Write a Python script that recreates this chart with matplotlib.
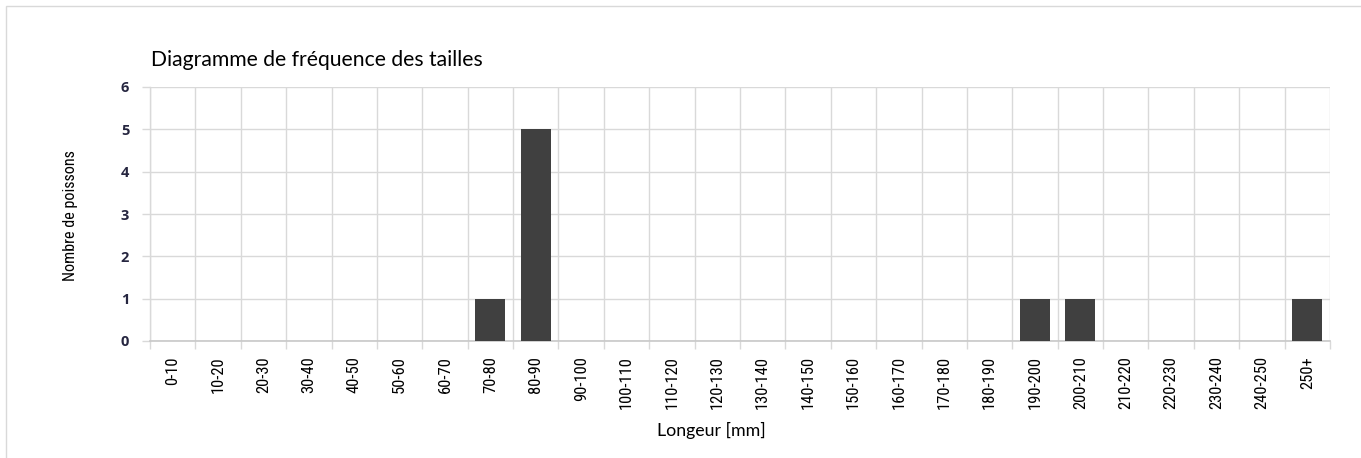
import matplotlib.pyplot as plt
import numpy as np
from matplotlib.patches import Rectangle
from matplotlib import font_manager

categories = ['0-10', '10-20', '20-30', '30-40', '40-50', '50-60', '60-70', '70-80',
              '80-90', '90-100', '100-110', '110-120', '120-130', '130-140', '140-150',
              '150-160', '160-170', '170-180', '180-190', '190-200', '200-210',
              '210-220', '220-230', '230-240', '240-250', '250+']
counts = [0, 0, 0, 0, 0, 0, 0, 1, 5, 0, 0, 0, 0, 0, 0, 0, 0, 0, 0, 1, 1, 0, 0, 0, 0, 1]
yticks = [0, 1, 2, 3, 4, 5, 6]

# condensed font for the category labels, if one is installed
names = set(f.name for f in font_manager.fontManager.ttflist)
narrow = [n for n in ['Liberation Sans Narrow', 'DejaVu Sans Condensed', 'Roboto Condensed']
          if n in names] + ['DejaVu Sans']
grid_col = '#d9d9d9'

fig = plt.figure(figsize=(13.61, 4.58), dpi=100)
fig.patches.append(Rectangle((6 / 1361, -0.1), 1.2, 1.1 - 6 / 458, transform=fig.transFigure,
                             fill=False, edgecolor='#d9d9d9', linewidth=1))
ax = fig.add_axes([150 / 1361, 117 / 458, 1180 / 1361, 254 / 458])

x = np.arange(len(categories))
ax.bar(x, counts, width=0.66, color='#404040', zorder=3)

ax.set_xlim(-0.5, len(categories) - 0.5)
ax.set_ylim(0, 6)

# vertical grid at category boundaries, with tick marks below
bounds = np.arange(len(categories) + 1) - 0.5
for b in bounds:
    ax.axvline(b, color=grid_col, linewidth=1, zorder=1)
ax.set_xticks(bounds, minor=True)
ax.set_xticks(x)
ax.set_xticklabels(categories, rotation=90, family=narrow, stretch='condensed',
                   fontsize=12, color='#000000')
ax.tick_params(axis='x', which='major', length=0, pad=11)
ax.tick_params(axis='x', which='minor', length=6, color=grid_col, width=1)

ax.set_yticks(yticks)
ax.set_yticklabels([str(v) for v in yticks], fontsize=10.5, color='#262640',
                   family=['Open Sans', 'DejaVu Sans'], fontweight='bold')
ax.tick_params(axis='y', length=6, color=grid_col, width=1, pad=9)
ax.grid(axis='y', color=grid_col, linewidth=1, zorder=1)

for s in ['top', 'right']:
    ax.spines[s].set_visible(False)
ax.spines['left'].set_color(grid_col)
ax.spines['bottom'].set_color('#c8c8c8')
ax.spines['left'].set_linewidth(1)
ax.spines['bottom'].set_linewidth(1.2)

fig.text(151 / 1361, 1 - 60 / 458, 'Diagramme de fréquence des tailles', fontsize=15.2,
         family=['Lato', 'DejaVu Sans'], va='center', ha='left', color='#000000')
fig.text(711 / 1361, 1 - 430 / 458, 'Longeur [mm]', fontsize=12.8,
         family=['Lato', 'DejaVu Sans'], va='center', ha='center')
fig.text(70 / 1361, 1 - 216 / 458, 'Nombre de poissons', fontsize=11.6, rotation=90,
         family=narrow, stretch='condensed', va='center', ha='center')

fig.savefig('out.png', dpi=100)
